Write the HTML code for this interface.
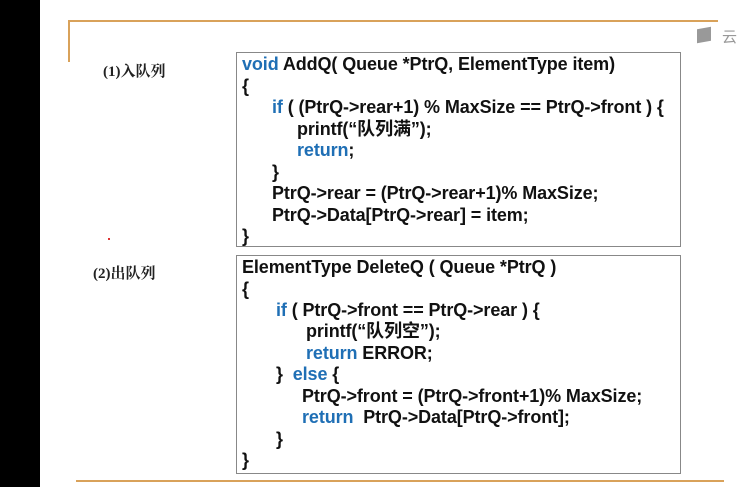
<!DOCTYPE html>
<html><head><meta charset="utf-8"><style>
body{margin:0;width:749px;height:487px;background:#fff;position:relative;overflow:hidden;font-family:"Liberation Sans","Noto Sans CJK SC",sans-serif;}
.blk{position:absolute;left:0;top:0;width:40px;height:487px;background:#000;}
.o{position:absolute;background:#d9a25a;}
.box{position:absolute;left:236px;width:443px;border:1.5px solid #888;background:#fff;}
.l{position:absolute;font-weight:bold;font-size:18px;color:#111;white-space:nowrap;letter-spacing:-0.1px;line-height:20px;}
.k{color:#1f6fb5;}
.lab{position:absolute;font-family:"Liberation Serif","Noto Serif CJK SC",serif;font-weight:bold;font-size:15px;color:#222;}
</style></head><body>
<div class="blk"></div>
<div class="o" style="left:68px;top:20px;width:650px;height:2px"></div>
<div class="o" style="left:68px;top:20px;width:2px;height:42px"></div>
<div class="o" style="left:76px;top:480px;width:648px;height:2px"></div>
<div style="position:absolute;left:697px;top:28px;width:14px;height:14px;background:#999;transform:skewY(-10deg)"></div>
<div style="position:absolute;left:722px;top:26px;font-size:15px;color:#999;font-family:'Noto Sans CJK SC',sans-serif">云</div>
<div class="lab" style="left:103px;top:60px">(1)入队列</div>
<div class="lab" style="left:93px;top:262px">(2)出队列</div>
<div style="position:absolute;left:108px;top:238px;width:2px;height:2px;background:#d33"></div>
<div class="box" style="top:52px;height:193px"></div>
<div class="box" style="top:255px;height:217px"></div>
<div class="l" style="left:242px;top:54px"><span class="k">void</span> AddQ( Queue *PtrQ, ElementType item)</div>
<div class="l" style="left:242px;top:76px">{</div>
<div class="l" style="left:272px;top:97px"><span class="k">if</span> ( (PtrQ-&gt;rear+1) % MaxSize == PtrQ-&gt;front ) {</div>
<div class="l" style="left:297px;top:119px">printf(“队列满”);</div>
<div class="l" style="left:297px;top:140px"><span class="k">return</span>;</div>
<div class="l" style="left:272px;top:162px">}</div>
<div class="l" style="left:272px;top:183px">PtrQ-&gt;rear = (PtrQ-&gt;rear+1)% MaxSize;</div>
<div class="l" style="left:272px;top:205px">PtrQ-&gt;Data[PtrQ-&gt;rear] = item;</div>
<div class="l" style="left:242px;top:226px">}</div>
<div class="l" style="left:242px;top:257px">ElementType DeleteQ ( Queue *PtrQ )</div>
<div class="l" style="left:242px;top:279px">{</div>
<div class="l" style="left:276px;top:300px"><span class="k">if</span> ( PtrQ-&gt;front == PtrQ-&gt;rear ) {</div>
<div class="l" style="left:306px;top:321px">printf(“队列空”);</div>
<div class="l" style="left:306px;top:343px"><span class="k">return</span> ERROR;</div>
<div class="l" style="left:276px;top:364px">}&nbsp; <span class="k">else</span> {</div>
<div class="l" style="left:302px;top:386px">PtrQ-&gt;front = (PtrQ-&gt;front+1)% MaxSize;</div>
<div class="l" style="left:302px;top:407px"><span class="k">return</span>&nbsp; PtrQ-&gt;Data[PtrQ-&gt;front];</div>
<div class="l" style="left:276px;top:429px">}</div>
<div class="l" style="left:242px;top:450px">}</div>
</body></html>
